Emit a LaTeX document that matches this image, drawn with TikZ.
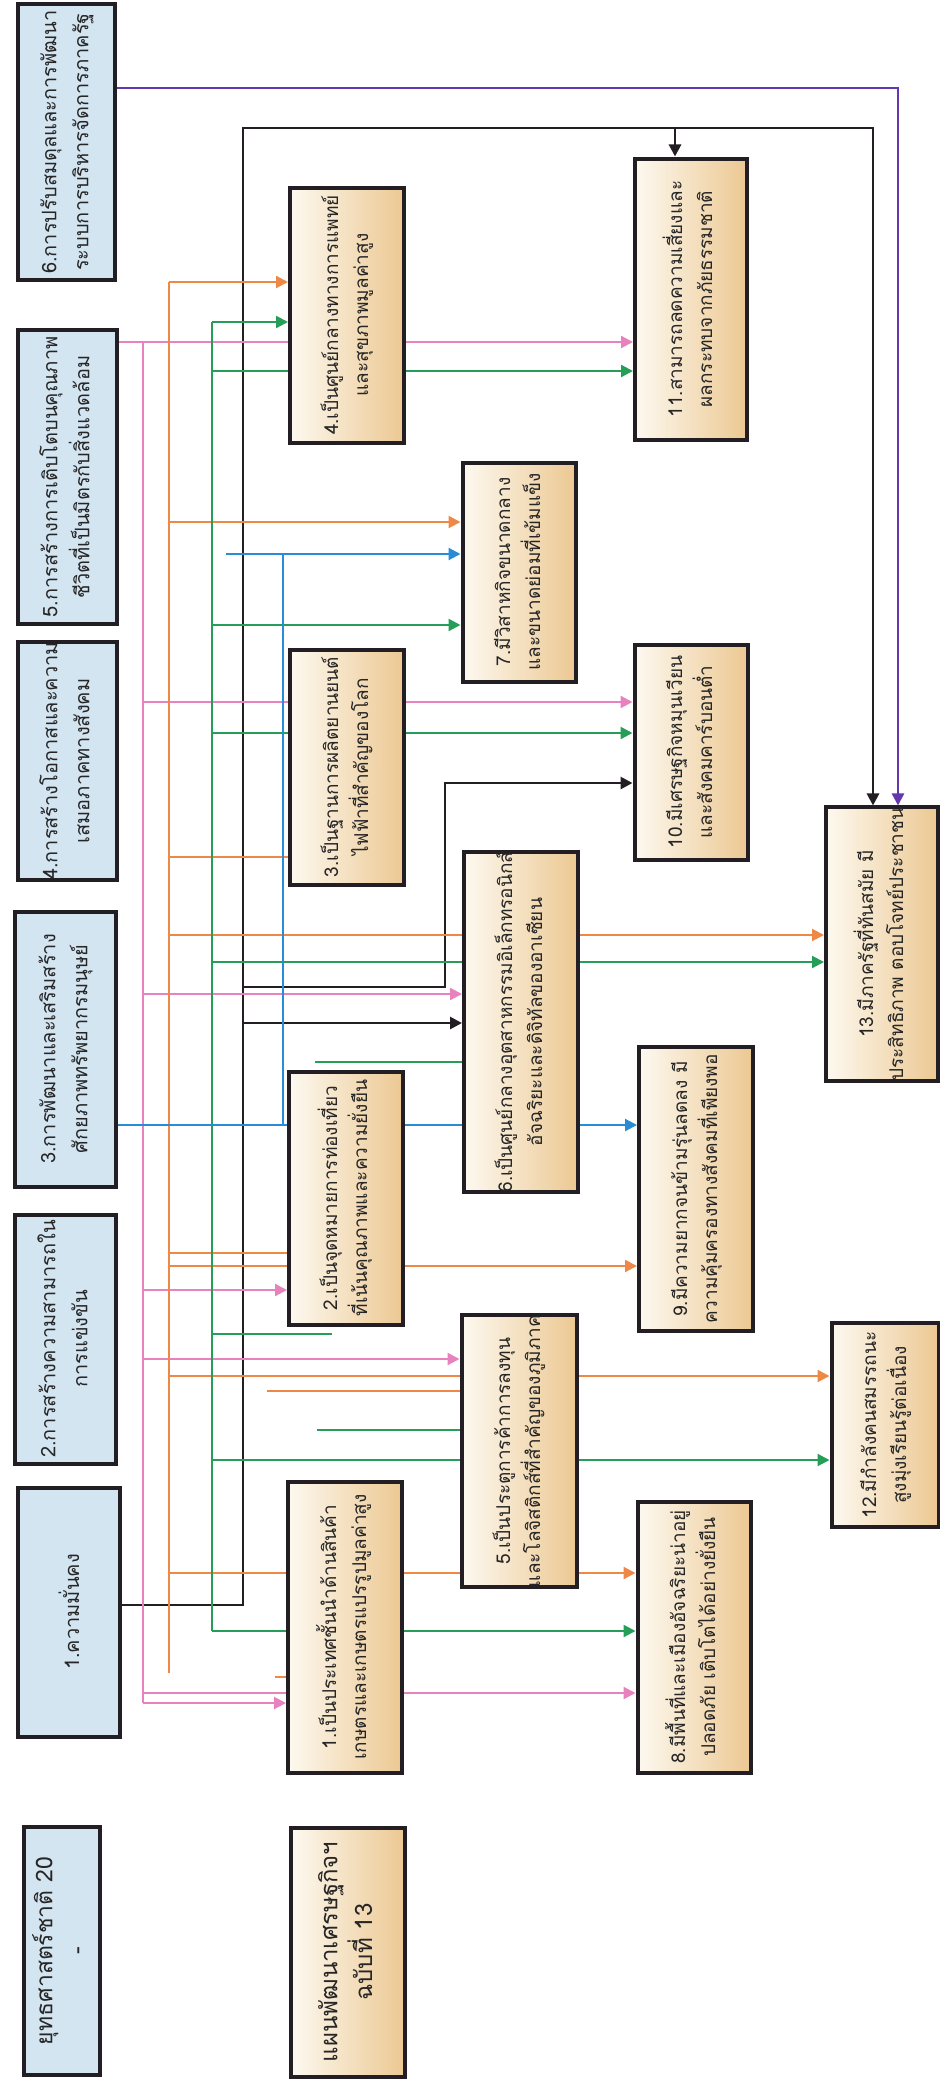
\documentclass[tikz,border=0pt]{standalone}
\usepackage{fontspec}
\newfontfamily\thaifont[Script=Thai]{Loma}
\usetikzlibrary{arrows.meta}

\definecolor{pinkln}{RGB}{232,130,190}
\definecolor{orangeln}{RGB}{238,136,70}
\definecolor{greenln}{RGB}{38,158,88}
\definecolor{blueln}{RGB}{40,140,215}
\definecolor{purpleln}{RGB}{100,55,175}
\definecolor{blackln}{RGB}{35,30,35}
\definecolor{stratfill}{RGB}{212,229,242}
\definecolor{goallight}{RGB}{253,249,240}
\definecolor{goaldark}{RGB}{236,200,146}

\pgfdeclarelayer{bg}
\pgfsetlayers{bg,main}

\newcommand{\twolines}[2]{\rotatebox{90}{\begin{tabular}{@{}c@{}}#1\\#2\end{tabular}}}

\begin{document}
\begin{tikzpicture}[x=0.5pt, y=-0.5pt, >={Triangle[length=6pt,width=6pt]},
    box/.style 2 args={draw=blackln, line width=2pt, inner sep=0pt,
      minimum width=#1*0.5pt, minimum height=#2*0.5pt, text=black!85},
    strat/.style={fill=stratfill, font=\thaifont\fontsize{10}{16}\selectfont},
    goal/.style={left color=goallight, right color=goaldark,
      font=\thaifont\fontsize{9.5}{15}\selectfont},
    pk/.style={draw=pinkln, line width=1.1pt},
    or/.style={draw=orangeln, line width=1.1pt},
    gr/.style={draw=greenln, line width=1.1pt},
    bl/.style={draw=blueln, line width=1.1pt},
    pu/.style={draw=purpleln, line width=1.2pt},
    blk/.style={draw=blackln, line width=1.4pt}]

  \useasboundingbox (0,0) rectangle (940,2082);

  % titles
  \node[box={76}{248}, strat, font=\thaifont\fontsize{11.5}{16}\selectfont] (t1) at (62,1951) {\twolines{ยุทธศาสตร์ชาติ 20}{-}};
  \node[box={114}{249}, goal, font=\thaifont\fontsize{12}{17}\selectfont] (t2) at (348,1952) {\twolines{แผนพัฒนาเศรษฐกิจฯ}{ฉบับที่ 13}};

  % strategies
  \node[box={102}{249}, strat] (s1) at (69,1612) {\rotatebox{90}{1.ความมั่นคง}};
  \node[box={101}{249}, strat] (s2) at (65,1339) {\twolines{2.การสร้างความสามารถใน}{การแข่งขัน}};
  \node[box={101}{275}, strat] (s3) at (65,1049) {\twolines{3.การพัฒนาและเสริมสร้าง}{ศักยภาพทรัพยากรมนุษย์}};
  \node[box={99}{233}, strat] (s4) at (67,761) {\twolines{4.การสร้างโอกาสและความ}{เสมอภาคทางสังคม}};
  \node[box={99}{294}, strat] (s5) at (67,477) {\twolines{5.การสร้างการเติบโตบนคุณภาพ}{ชีวิตที่เป็นมิตรกับสิ่งแวดล้อม}};
  \node[box={97}{276}, strat] (s6) at (66,142) {\twolines{6.การปรับสมดุลและการพัฒนา}{ระบบการบริหารจัดการภาครัฐ}};

  % goals
  \node[box={114}{291}, goal] (g1) at (345,1627) {\twolines{1.เป็นประเทศชั้นนำด้านสินค้า}{เกษตรและเกษตรแปรรูปมูลค่าสูง}};
  \node[box={114}{253}, goal] (g2) at (346,1198) {\twolines{2.เป็นจุดหมายการท่องเที่ยว}{ที่เน้นคุณภาพและความยั่งยืน}};
  \node[box={114}{235}, goal] (g3) at (347,767) {\twolines{3.เป็นฐานการผลิตยานยนต์}{ไฟฟ้าที่สำคัญของโลก}};
  \node[box={114}{255}, goal] (g4) at (347,315) {\twolines{4.เป็นศูนย์กลางทางการแพทย์}{และสุขภาพมูลค่าสูง}};
  \node[box={115}{272}, goal] (g5) at (519,1451) {\twolines{5.เป็นประตูการค้าการลงทุน}{และโลจิสติกส์ที่สำคัญของภูมิภาค}};
  \node[box={114}{331}, goal] (g6) at (521,1022) {\twolines{6.เป็นศูนย์กลางอุตสาหกรรมอิเล็กทรอนิกส์}{อัจฉริยะและดิจิทัลของอาเซียน}};
  \node[box={113}{219}, goal] (g7) at (519,572) {\twolines{7.มีวิสาหกิจขนาดกลาง}{และขนาดย่อมที่เข้มแข็ง}};
  \node[box={113}{271}, goal] (g8) at (694,1637) {\twolines{8.มีพื้นที่และเมืองอัจฉริยะน่าอยู่}{ปลอดภัย เติบโตได้อย่างยั่งยืน}};
  \node[box={114}{284}, goal] (g9) at (696,1189) {\twolines{9.มีความยากจนข้ามรุ่นลดลง มี}{ความคุ้มครองทางสังคมที่เพียงพอ}};
  \node[box={113}{215}, goal] (g10) at (691,752) {\twolines{10.มีเศรษฐกิจหมุนเวียน}{และสังคมคาร์บอนต่ำ}};
  \node[box={112}{281}, goal] (g11) at (691,299) {\twolines{11.สามารถลดความเสี่ยงและ}{ผลกระทบจากภัยธรรมชาติ}};
  \node[box={107}{204}, goal] (g12) at (885,1425) {\twolines{12.มีกำลังคนสมรรถนะ}{สูงมุ่งเรียนรู้ต่อเนื่อง}};
  \node[box={112}{264}, goal] (g13) at (882,944) {\twolines{13.มีภาครัฐที่ทันสมัย มี}{ประสิทธิภาพ ตอบโจทย์ประชาชน}};

  % trunk ends
  \coordinate (pktop) at (143,342);
  \coordinate (pkbot) at (143,1703);
  \coordinate (ortop) at (169,282);
  \coordinate (orbot) at (169,1673);
  \coordinate (grtop) at (212,322);
  \coordinate (grbot) at (212,1631);
  \coordinate (blktop) at (243,128);
  \coordinate (blkbend) at (445,987);
  \coordinate (bltop) at (283,554);
  \coordinate (blleft) at (226,554);
  \coordinate (orstubA) at (267,1391);
  \coordinate (orstubB) at (275,1677);
  \coordinate (grstubA) at (315,1062);
  \coordinate (grstubB) at (317,1430);
  \coordinate (grend) at (332,1334);

  \begin{pgfonlayer}{bg}
    \fill[white] (0,0) rectangle (940,2082);

    % purple
    \draw[pu,->] (s6.east |- 0,88) -| (g13.north -| 898,0);

    % black
    \draw[blk,->] (s1.east |- 0,1605) -| (blktop) -| (g13.north -| 873,0);
    \draw[blk,->] (675,128) -- (g11.north -| 675,0);
    \draw[blk,->] (blktop |- 0,1023) -- (g6.west |- 0,1023);
    \draw[blk,->] (blktop |- blkbend) -- (blkbend) |- (g10.west |- 0,783);

    % pink
    \draw[pk,->] (s5.east |- pktop) -- (g11.west |- pktop);
    \draw[pk] (pktop) -- (pkbot);
    \foreach \y/\g in {702/g10, 994/g6, 1290/g2, 1359/g5, 1693/g8, 1703/g1}
      \draw[pk,->] (pktop |- 0,\y) -- (\g.west |- 0,\y);

    % orange
    \draw[or] (ortop) -- (orbot);
    \foreach \y/\g in {282/g4, 522/g7, 935/g13, 1266/g9, 1376/g12, 1573/g8}
      \draw[or,->] (ortop |- 0,\y) -- (\g.west |- 0,\y);
    \foreach \y/\g in {857/g3, 1253/g2}
      \draw[or] (ortop |- 0,\y) -- (\g.west |- 0,\y);
    \draw[or] (orstubA) -- (g5.west |- orstubA);
    \draw[or] (orstubB) -- (g1.west |- orstubB);

    % green
    \draw[gr] (grtop) -- (grbot);
    \foreach \y/\g in {322/g4, 371/g11, 625/g7, 733/g10, 962/g13, 1460/g12, 1631/g8}
      \draw[gr,->] (grtop |- 0,\y) -- (\g.west |- 0,\y);
    \draw[gr] (grtop |- grend) -- (grend);
    \draw[gr] (grstubA) -- (g6.west |- grstubA);
    \draw[gr] (grstubB) -- (g5.west |- grstubB);

    % blue
    \draw[bl,->] (s3.east |- 0,1125) -- (g9.west |- 0,1125);
    \draw[bl] (bltop |- 0,1125) -- (bltop);
    \draw[bl,->] (blleft) -- (g7.west |- blleft);
  \end{pgfonlayer}
\end{tikzpicture}
\end{document}
